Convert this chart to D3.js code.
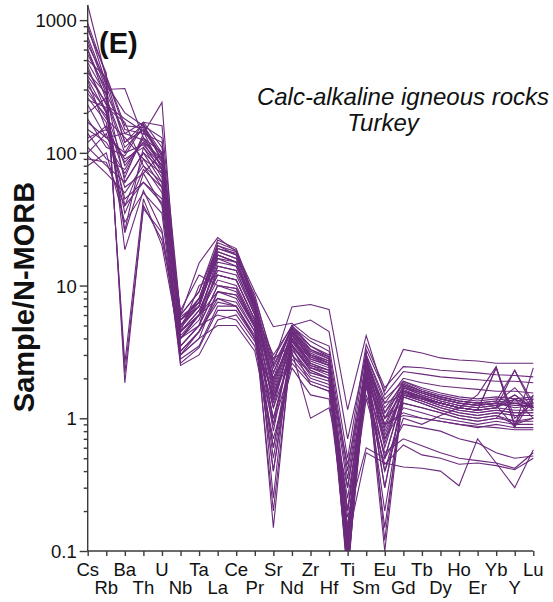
<!DOCTYPE html>
<html><head><meta charset="utf-8">
<script src="https://cdn.jsdelivr.net/npm/d3@7"></script>
<style>body{margin:0;background:#fff}svg{display:block}</style>
</head><body>
<script>
const elements = ["Cs","Rb","Ba","Th","U","Nb","Ta","La","Ce","Pr","Sr","Nd","Zr","Hf","Ti","Sm","Eu","Gd","Tb","Dy","Ho","Er","Yb","Y","Lu"];
const yTickLabels = [0.1, 1, 10, 100, 1000];
const s01 = [1300,360,120,150,90,5.5,8,20,17,7.5,2.5,4.8,3.2,2.8,0.15,2.8,1.2,1.8,1.6,1.45,1.35,1.3,1.35,1.3,1.3];
const s02 = [900,330,200,160,100,5,7,18,16,7,1.8,4.5,3,2.6,0.1,2.6,0.9,1.75,1.55,1.4,1.3,1.25,1.3,1.2,1.25];
const s03 = [700,300,305,130,80,4.5,6,16,15,6.5,1.2,4.3,2.8,2.5,0.08,2.4,0.6,1.7,1.5,1.35,1.25,1.2,1.25,1.5,1.2];
const s04 = [600,250,100,170,110,6,9,22,19,8,2.8,5,3.5,3,0.2,3,1.4,1.9,1.65,1.5,1.4,1.35,1.4,1.35,1.4];
const s05 = [500,370,150,140,240,3.5,5,14,13,6,0.9,4,2.6,2.3,0.07,2.2,0.3,1.65,1.45,1.3,1.2,1.15,2.4,0.9,1.5];
const s06 = [450,200,80,120,70,5,7,17,15,6.8,2.2,4.6,3,2.7,0.3,2.7,1.1,1.7,1.55,1.4,1.3,1.25,1.3,1.25,1.25];
const s07 = [400,280,60,100,60,4,6,15,14,6.5,1.5,4.2,2.9,2.5,0.12,2.5,0.8,1.6,1.45,1.3,1.2,1.15,1.2,1.5,1.15];
const s08 = [350,150,90,110,75,4.5,10,12,11,5.5,2,3.8,2.7,2.4,0.2,2.3,1.0,1.55,1.4,1.25,1.15,1.1,1.15,1.1,1.1];
const s09 = [300,180,130,90,55,6.5,12,10,9,5,1,3.5,2.4,2.2,0.1,2.1,0.5,1.5,1.35,1.2,1.1,1.05,1.1,1.05,1.05];
const s10 = [250,220,170,80,50,3,4,9,8.5,5,0.5,3.3,2.2,2,0.09,2,0.2,1.45,1.3,1.15,1.05,1.0,1.05,0.9,1.0];
const s11 = [200,260,110,150,95,5.5,8,19,17,7.5,0.25,4.8,3.5,2.9,0.06,3.2,0.12,1.8,1.6,1.45,1.35,1.3,1.35,2.3,1.3];
const s12 = [150,120,70,130,85,4,5.5,13,12,6,0.15,4,2.8,2.5,0.08,2.4,0.1,1.6,1.45,1.3,1.2,1.15,1.2,1.15,1.15];
const s13 = [120,160,45,60,45,3.2,4.5,8,7.5,4.5,0.4,3,2,1.8,0.11,1.8,0.4,1.3,1.2,1.1,1.0,0.95,1.0,0.95,0.95];
const s14 = [100,140,55,70,40,2.8,3.5,7,7,4,0.6,2.8,1.9,1.7,0.15,1.7,0.7,1.2,1.1,1.0,0.95,0.9,0.95,0.9,0.9];
const s15 = [80,100,30,50,35,2.5,3,5.5,6,3.8,1.5,3.5,1.8,1.6,0.25,1.9,0.9,1.1,1.0,0.95,0.9,0.85,0.9,0.85,0.85];
const s16 = [850,400,1.85,40,22,4.5,6.5,12,11,5.5,1.3,4.2,2.6,2.3,0.14,2.3,0.7,1.6,1.45,1.3,1.2,1.15,1.2,1.4,1.2];
const s17 = [650,350,2.2,38,25,4,6,11,10,5.2,0.8,4,2.5,2.2,0.1,2.2,0.5,1.55,1.4,1.25,1.15,1.1,1.15,1.1,1.1];
const s18 = [550,300,2.6,45,20,3.5,5,10,9.5,5,0.4,3.8,2.4,2.1,0.08,2.1,0.3,1.5,1.35,1.2,1.1,1.05,1.1,1.05,1.05];
const s19 = [480,270,18.6,52,26,3,4.5,9,8.5,4.8,0.2,3.6,2.3,2,0.07,2,0.15,1.45,1.3,1.15,1.05,1.0,1.05,0.95,1.0];
const s20 = [380,240,26,110,65,4.5,6.5,14,13,6.2,3,4.9,3.8,3.2,0.4,3.3,1.6,3.3,3.1,2.85,2.75,2.7,2.6,2.6,2.6];
const s21 = [320,210,40,90,70,6,9,20,18,9,4.9,5.2,4,3.5,0.5,3.6,1.7,2.45,2.4,2.3,2.25,2.2,2.13,2.1,2.05];
const s22 = [280,190,65,140,120,5,8,18,16,8.5,2.6,6.9,7.2,6.6,1.16,4.2,1.5,2.25,2.15,2.05,2.0,1.95,1.9,1.9,1.85];
const s23 = [230,130,140,170,160,6,14.8,23,18,7,2,5,5.5,4.5,0.7,3,1.3,2.0,1.85,1.75,1.7,1.65,1.6,1.6,1.55];
const s24 = [180,110,95,160,130,5.5,7.5,17,15,7,1.7,4.5,3.3,2.9,0.35,2.8,1.0,1.3,1.2,1.1,1.0,0.95,1.0,1.4,1.0];
const s25 = [140,90,75,130,100,4.5,6,8,7,4,1.2,3,2.2,2,0.2,1.5,0.55,0.7,0.62,0.55,0.5,0.48,0.46,0.42,0.55];
const s26 = [110,80,60,100,75,3.5,5,6,5.5,3.5,0.9,2.6,1.8,1.6,0.15,1.4,0.45,0.63,0.53,0.5,0.45,0.46,0.44,0.41,0.5];
const s27 = [95,70,50,80,60,3,4,5,5,3.2,0.7,2.4,1.5,1.4,0.12,0.55,0.46,0.43,0.42,0.4,0.31,0.7,0.46,0.3,0.58];
const s28 = [130,150,85,120,90,4,6,9,8,4.5,1.0,3.3,2.1,1.9,0.18,0.6,0.5,0.9,0.85,0.8,0.7,0.65,0.55,0.5,0.52];
const s29 = [260,170,35,75,55,3.2,4.5,7.5,7,4.2,1.4,3.2,1.0,1.2,0.3,2,0.9,1.05,1.0,0.95,0.9,0.87,0.85,0.82,0.82];
const s30 = [750,320,120,165,85,5.5,7,19,17.5,7.2,2.4,4.7,3.1,2.7,0.09,2.7,1.0,1.85,1.6,1.45,1.35,1.3,1.25,0.86,1.4];
const s31 = [420,230,180,145,75,5,7.5,16,14,6.5,1.9,4.3,2.9,2.6,0.11,2.6,0.85,1.75,1.55,1.4,1.3,1.25,1.3,1.7,1.2];
const s32 = [170,130,100,115,80,4.2,6,12,11,5.5,1.4,3.9,2.5,2.3,0.13,2.3,0.75,1.6,1.4,1.3,1.2,1.15,2.4,1.0,1.3];
const s33 = [950,380,160,155,95,5.8,7.5,21,18.5,7.8,2.2,5,3.3,2.8,0.1,2.9,1.1,1.9,1.7,1.55,1.45,1.4,1.45,1.4,1.45];
const s34 = [600,280,140,125,80,4.8,7,17,15,6.8,1.6,4.4,3,2.6,0.09,2.5,0.65,1.7,1.5,1.35,1.25,1.2,1.25,1.3,1.2];
const s35 = [90,85,40,60,42,2.6,3.4,6.5,6.5,4,2.8,3.6,2.4,2.2,0.45,2.2,1.3,1.5,1.4,1.3,1.2,1.15,1.2,2.3,1.2];
const s36 = [360,200,25,70,100,4,5,10,9.5,5,0.6,3.5,2.3,2,0.1,2,0.4,1.0,0.9,1.05,1.2,1.5,2.45,0.86,2.4];
const samples = [s01,s02,s03,s04,s05,s06,s07,s08,s09,s10,s11,s12,s13,s14,s15,s16,s17,s18,s19,s20,s21,s22,s23,s24,s25,s26,s27,s28,s29,s30,s31,s32,s33,s34,s35,s36];

const W = 553, H = 602;
const lineColor = "#6b2a7c";
const svg = d3.select("body").append("svg").attr("width", W).attr("height", H);

const x = d3.scalePoint().domain(elements).range([87.7, 533.3]);
const y = d3.scaleLog().domain([0.1, 1300]).range([551, 5]);

svg.append("defs").append("clipPath").attr("id","clip")
  .append("rect").attr("x", 80).attr("y", 0).attr("width", 470).attr("height", y(0.1));

const line = d3.line().x((d,i) => x(elements[i])).y(d => y(d));
svg.append("g").attr("clip-path","url(#clip)")
  .selectAll("path").data(samples).join("path")
  .attr("d", line).attr("fill","none").attr("stroke", lineColor)
  .attr("stroke-width", 1.1).attr("stroke-linejoin","miter");

const font = "'Liberation Sans', Arial, sans-serif";
const axisColor = "#3a3a3a";

// y axis
const minor = [];
for (let e = -1; e <= 2; e++) for (let m = 2; m <= 9; m++) minor.push(m * Math.pow(10, e));
const yAxisG = svg.append("g").attr("transform", `translate(${x(elements[0])},0)`);
yAxisG.call(d3.axisLeft(y).tickValues(yTickLabels).tickSize(8).tickPadding(3).tickFormat(d => String(d)));
const yMinorG = svg.append("g").attr("transform", `translate(${x(elements[0])},0)`);
yMinorG.call(d3.axisLeft(y).tickValues(minor).tickSize(4).tickFormat(""));
yMinorG.select(".domain").remove();
yAxisG.select(".domain").attr("d", `M0,${y(0.1)}V${y(1300)}`);

// x axis
const xAxisG = svg.append("g").attr("transform", `translate(0,${y(0.1)})`);
xAxisG.call(d3.axisBottom(x).tickSize(5).tickFormat(""));
xAxisG.select(".domain").attr("d", `M${x(elements[0])},0H${x(elements[elements.length-1])}`);
xAxisG.selectAll("text.el").data(elements).join("text").attr("class","el")
  .attr("x", d => x(d)).attr("y", (d,i) => i % 2 === 0 ? 25 : 43)
  .attr("text-anchor","middle").text(d => d);

[yAxisG, yMinorG, xAxisG].forEach(g => {
  g.selectAll(".domain, line").attr("stroke", axisColor).attr("stroke-width", 1.4);
  g.selectAll("text").attr("fill", "#111").style("font-family", font).style("font-size", "18.5px");
});
yAxisG.selectAll(".tick text").attr("dy", "0.36em");

// title texts
svg.append("text").attr("transform", "translate(34,297) rotate(-90)")
  .attr("text-anchor","middle").style("font-family", font).style("font-weight","bold")
  .style("font-size","29px").attr("fill","#111").text("Sample/N-MORB");
svg.append("text").attr("x", 99).attr("y", 53).style("font-family", font)
  .style("font-weight","bold").style("font-size","29px").attr("fill","#111").text("(E)");
svg.append("text").attr("x", 403).attr("y", 105).attr("text-anchor","middle")
  .style("font-family", font).style("font-style","italic").style("font-size","24px")
  .attr("fill","#111").text("Calc-alkaline igneous rocks");
svg.append("text").attr("x", 383).attr("y", 131).attr("text-anchor","middle")
  .style("font-family", font).style("font-style","italic").style("font-size","24px")
  .attr("fill","#111").text("Turkey");
</script>
</body></html>
